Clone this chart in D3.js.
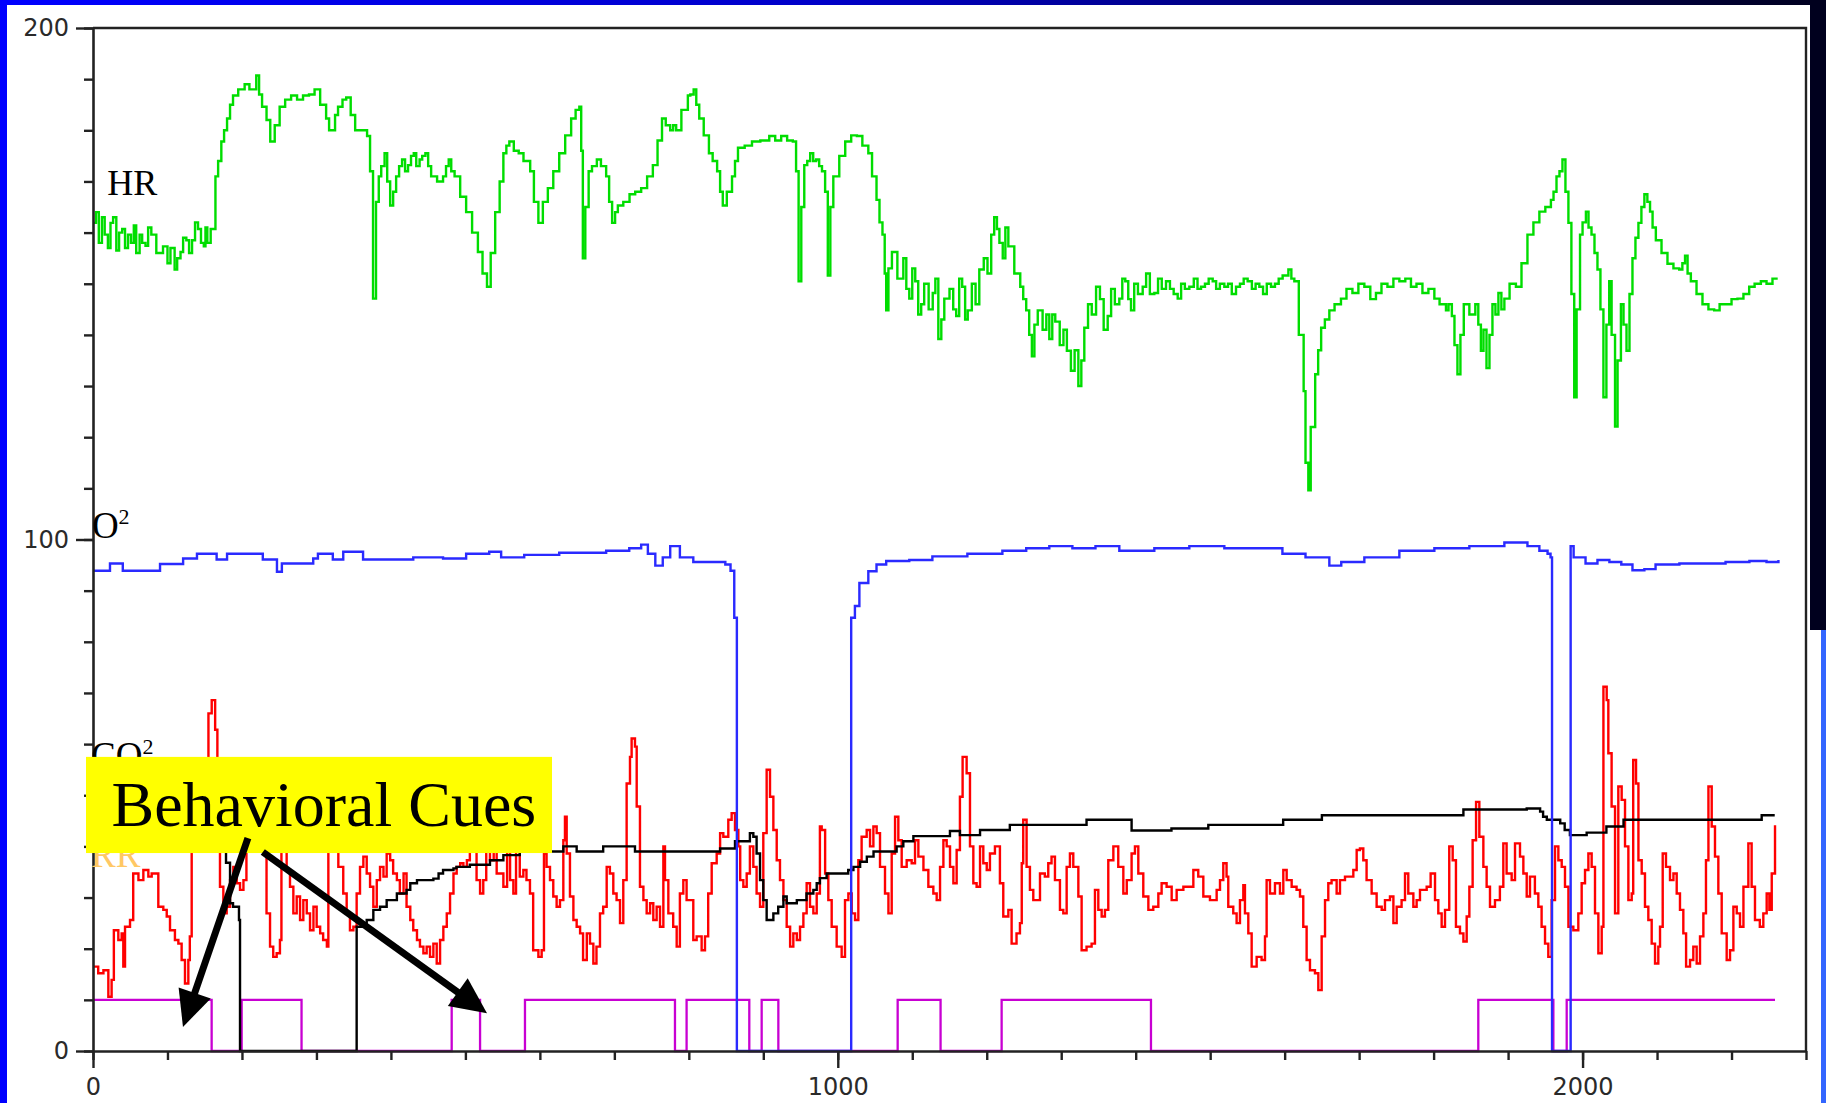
<!DOCTYPE html>
<html><head><meta charset="utf-8">
<script src="https://cdn.jsdelivr.net/npm/d3@7"></script>
<style>html,body{margin:0;padding:0;background:#fff;overflow:hidden}</style>
</head><body>
<svg id="c" width="1826" height="1103"></svg>
<script>
// ---------- data (x = sample index, y = value) ----------
const xMajorTicks = [0, 1000, 2000];
const yMajorTicks = [0, 100, 200];
const seriesLabels = ["HR", "O", "CO", "RR"];
const annotationText = "Behavioral Cues";

const hrData = [[0,161.9],[4,164],[7.8,158],[12,163],[15.7,159.6],[20,157],[23.5,161.9],[27,163],[31.3,156.5],[35,160],[39.2,160.7],[43,157],[47,159.6],[51,158],[54.8,161.4],[58,156],[62.6,159.6],[66,158],[70.5,157.4],[74,161],[78.3,159.6],[85,156],[94,157.3],[100,154],[104,157],[109.6,152.8],[113,155],[117.5,156.2],[121,159],[125.3,158.5],[129,156],[133,158.5],[137,162],[141,160.7],[145,158],[148.8,157.3],[151,161],[153.5,158],[158,160.7],[164.4,171],[168,174],[172.3,177.8],[176,180],[180,182.3],[184,185],[188,186.8],[195,188],[203.6,189],[210,188],[219.2,190.7],[223,187],[227,184.6],[233,182],[238,177.8],[244,181],[250.6,184.6],[258,186],[266,186.8],[274,186],[282,186.8],[290,187],[297.5,188],[305,185],[313,182.3],[317,180],[321,180],[325,183],[329,184.6],[335,186],[340,186.4],[346,183],[352,180],[360,180],[368,178.9],[372,172],[376,147.1],[380,166],[383.7,171],[387,173],[391.5,175.5],[395,170],[399,165.3],[403,168],[407,171],[411,173],[415,174.3],[419,172],[423,173.2],[427,175],[430.7,175.5],[434,173],[438.5,174.3],[442,175],[446.3,175.5],[450,173],[454,171],[462,170],[470,171],[474,173],[477.6,174.3],[481,172],[485.5,171],[493,167],[501,164],[509,160],[516.8,156.2],[523,152],[529,149.4],[534,156],[540,164],[546,170],[551,175.5],[555,177],[559,177.8],[565,176],[571.6,175.5],[578,174],[587,172],[592,166],[598,161.9],[604,166],[610.7,168.7],[618,172],[626,175.5],[634,179],[642,182.3],[648,184],[653,184.6],[655.5,176],[657.7,155],[661,165],[665.5,172],[670,173],[676.5,174.3],[682,173],[689,171],[693,166],[697,161.9],[701,164],[704.7,165.3],[712,166],[720.4,167.5],[728,168],[736,168.7],[744,171],[751.7,173.2],[758,178],[764,182.3],[769,181],[775,180],[779,181],[783,180],[790,184],[798.7,186.8],[802,187],[806.5,188],[810,185],[814,182.3],[820,179],[827,175.5],[832,174],[838,172],[842,168],[845.6,165.3],[851,168],[858,171],[862,174],[866,176.6],[875,177],[884.8,177.8],[896,178],[908,178.9],[916,178],[924,178.9],[932,178],[939.6,177.8],[944,172],[947.4,150.5],[951,165],[955,173.2],[959,174],[963,175.5],[967,174],[971,174.3],[975,173],[978.8,172],[983,168],[986.6,151.6],[990,165],[994,171],[1002,175],[1010,177.8],[1018,179],[1025.7,178.9],[1033,177],[1041,175.5],[1046,171],[1052,166.4],[1056,162],[1060,159.6],[1063,152],[1065,144.8],[1068,153],[1072.7,156.2],[1080,151],[1088,155],[1092,149],[1096,147.1],[1100,153],[1104,150.5],[1108,144],[1112,146],[1116,150],[1122,145],[1127.5,148.2],[1131,151],[1135,139.2],[1139,143],[1143,147.1],[1150,149],[1155,145],[1159,143.7],[1163,151],[1167,149.4],[1171,143],[1174.5,144.8],[1180,150],[1185,146],[1190,152.8],[1196,155],[1201,152],[1206,159.6],[1210,163],[1213.7,160.7],[1217,158],[1221.5,155],[1225,161],[1229,157.3],[1237,152],[1245,149.4],[1249,147],[1253,144.8],[1257,140],[1260.6,135.8],[1264,142],[1268.5,144.8],[1275,141],[1280,144],[1284,139.2],[1288,144],[1292,142.6],[1298,138],[1303,141],[1307.6,136.9],[1313,133],[1318,137],[1323,130],[1327,135],[1331,141.4],[1336,146],[1341,144],[1346.8,149.4],[1352,147],[1357,141],[1362.4,143.7],[1367,149],[1372,146],[1378,147.1],[1382,151],[1386,150.5],[1390,147],[1393.7,144.8],[1398,150],[1403,148],[1409.4,149.4],[1414,152],[1419,148],[1425,148.2],[1430,151],[1435,149],[1440.7,150.5],[1446,149],[1451,148],[1456.4,147.1],[1461,150],[1466,149],[1472,149.4],[1478,151],[1483,149],[1487.7,149.4],[1493,150],[1498,151],[1503.4,150.5],[1508,149],[1513,150],[1519,149.4],[1524,150],[1529,148],[1534.7,149.4],[1540,150],[1545,151],[1550.3,150.5],[1556,149],[1561,150],[1566,149.4],[1571,148],[1576,150],[1581.7,149.4],[1587,150],[1592,151],[1597.3,151.6],[1605,152.8],[1609,151],[1613,150.5],[1619,140],[1625.5,129],[1628,115],[1631.8,109.6],[1635,122],[1641,132.3],[1645,137],[1649,141.4],[1654,143],[1660,144.8],[1667,146],[1675.6,147.1],[1683,149],[1691,148.2],[1699,150],[1707,149.4],[1715,147],[1722.6,148.2],[1730,150],[1738,149.4],[1746,151],[1754,150.5],[1762,151],[1769.6,149.4],[1777,150],[1785,148.2],[1793,149],[1801,147.1],[1808,146],[1816.6,144.8],[1820,146],[1824.5,143.7],[1828,138],[1832,132.3],[1836,140],[1840.5,146],[1848,144],[1856,146],[1860,142],[1863.5,136.9],[1867,141],[1871,133.5],[1875,140],[1879,146],[1883,144],[1887,148.2],[1891,145],[1895,147.1],[1902,150],[1910.5,149.4],[1918,154],[1926,159.6],[1934,162],[1942,164.1],[1950,165],[1957.5,166.4],[1961,168],[1965,171],[1969,172],[1973,174.3],[1977,168],[1981,161.9],[1985,148],[1988.8,127.8],[1992,145],[1996.6,159.6],[2000,162],[2004.5,164.1],[2008,161],[2012,159.6],[2016,156],[2020,152.8],[2024,145],[2028,127.8],[2032,142],[2035.8,150.5],[2039,140],[2043.6,122.1],[2047,135],[2051.5,146],[2055,142],[2059,136.9],[2063,148],[2067,155],[2071,159],[2075,161.9],[2079,165],[2083,167.5],[2087,166],[2090.6,164.1],[2094,161],[2098.4,158.5],[2106,156],[2114,153.9],[2122,153],[2129.8,152.8],[2134,154],[2137.6,155.5],[2141,152],[2145.4,150.5],[2153,148],[2161,146],[2169,145],[2176.7,144.8],[2184,146],[2192.4,146],[2200,147],[2208,147.1],[2216,148],[2223.7,149.4],[2231,150],[2239.4,150.5],[2247,150],[2255,151],[2262,151]];

const o2Data = [[0,93.9],[2.7,93.9],[22.8,95.3],[40,93.9],[90,95.2],[121,96.3],[139.6,97.2],[166,96.1],[180,97.2],[228,96.1],[247,93.7],[253.6,95.3],[295.7,96.3],[302,97.2],[322,96.1],[336,97.6],[362.6,96.1],[412,96.1],[430,96.5],[470,96.3],[501,97.2],[532,97.6],[548,96.5],[579,97],[626,97.4],[689,97.8],[720,98.3],[736,99],[745,97.2],[755,94.9],[765,96.5],[775,98.7],[788,96.5],[806,95.6],[849,95.1],[856,93.9],[861,84.7],[864.5,0],[1018,84.7],[1023,87],[1029,91.5],[1041,93.8],[1052,95.1],[1065,95.8],[1096,96],[1127,96.7],[1174,97.2],[1221,97.8],[1253,98.3],[1284,98.7],[1315,98.3],[1346,98.7],[1378,97.8],[1425,98.3],[1472,98.7],[1519,98.3],[1566,98.3],[1597,97.2],[1628,96.5],[1660,94.9],[1676,95.6],[1707,96.5],[1754,97.8],[1801,98.3],[1848,98.7],[1895,99.4],[1926,98.7],[1942,97.8],[1953,97.2],[1957,96.5],[1959,0],[1984,98.7],[1988,96.5],[2004,95.3],[2020,96],[2036,95.6],[2052,95.1],[2067,94],[2083,94.2],[2098,95.1],[2130,95.3],[2192,95.6],[2224,95.8],[2247,95.6],[2263,96]];

const co2Data = [[160,44],[178.6,36.8],[184,28.9],[188,28.2],[196,25.6],[197.4,0],[354,24.3],[367.5,25.6],[376.4,27.6],[385.4,28.2],[394.3,29.5],[408,30.8],[421,31.5],[426,32.8],[435,33.4],[457,33.7],[464,34.7],[470,35.4],[484,35.7],[488,36],[506,36.4],[533,37.3],[551,38.3],[573,39],[631.5,40],[649.4,39],[685,40],[727.7,39],[842,39.6],[862,41],[882,42.6],[886.6,41.9],[891,38.6],[895.6,33.4],[900,29.5],[904.5,25.6],[913.5,26.9],[920,28.2],[927,30.2],[931.4,28.9],[945,29.5],[958,30.8],[967.2,31.5],[971.7,32.8],[976,33.8],[985,34.7],[1014,35.4],[1021,36],[1030,37],[1039,38],[1048,39],[1079,40],[1088,41],[1101.5,42],[1150.6,43],[1164,42.2],[1191,43.2],[1231,44.2],[1334,45.2],[1394.5,43.1],[1448,43.5],[1497.5,44.2],[1598,45.2],[1650,46.1],[1840,47.2],[1925,47.4],[1943,46.8],[1947,45.8],[1952,45.2],[1970,44.5],[1976,43.2],[1983,42.2],[2005.5,42.7],[2032,43.9],[2055,45.2],[2240.5,46.1],[2258,46.1]];

const rrData = [[0,16.5],[7,15.2],[14,15.8],[20.6,10.6],[25,13.9],[28,23.6],[34,21.7],[38.5,23],[40.7,16.5],[43,24.3],[49.7,25.6],[54,34.7],[61,33.4],[67.6,35.4],[74.3,34.1],[78.8,34.7],[85.5,34.7],[87.7,28.2],[94.4,27.6],[99,26.3],[103.4,23.6],[110,21.7],[114.6,21],[119,17.8],[123.5,13.2],[128,17.8],[130,22.4],[132.5,45],[139,50],[148,44],[155,66],[159.4,68.6],[164,62.8],[167,53],[170.5,32.1],[175,26.9],[179.5,28.2],[184,33.4],[188.4,36],[193,32.8],[197.4,31.5],[202,33.4],[206,45],[215,50],[224,46],[233,26.9],[237.7,20.4],[242,18.4],[246.6,19.1],[251,21.7],[253,42],[258,45],[260,35.4],[264.5,32.1],[269,26.9],[273.5,30.2],[278,25.6],[282.4,29.5],[287,26.9],[291.4,23.6],[296,28.2],[300.3,24.3],[305,23],[309,21.7],[314,20.4],[316,44],[323,48],[329.4,36],[336,30.8],[340.6,26.9],[345,23.6],[349.6,24.3],[354,30.8],[358.5,36],[363,38],[367.5,34.7],[372,32.1],[376.4,28.2],[381,33.4],[385.4,36],[390,34.1],[394.3,38.6],[399,37.3],[403,34.7],[408,33.4],[412,30.8],[417,34.7],[421,28.2],[426,25.6],[430,23.6],[435,21.7],[439,20.4],[443.6,19.1],[448,20.4],[452.5,18.4],[457,21],[461.5,17.1],[466,21.7],[470.4,24.3],[475,26.9],[479.4,30.8],[484,34.7],[488.3,36],[493,36.7],[497.3,36],[502,37.3],[506,39.3],[510,46],[515,33.4],[519.7,30.8],[524,33.4],[528,44],[533,37.3],[538,47],[542,34.7],[551,32.1],[556,45],[560,33.4],[564.4,30.8],[568,48],[573,34.1],[577.8,35.4],[582,33.4],[586.7,30.8],[591,19.7],[598,18.4],[602.4,19.7],[605.5,38.6],[609,36],[613.6,33.4],[618,30.2],[622.5,28.2],[627,29.5],[631.5,41.2],[633.7,45.8],[636,38.6],[640.4,30.2],[645,25.6],[649.4,24.3],[654,23],[658,17.8],[663,23],[667.3,21],[671.8,17.1],[676,20.4],[680.7,26.9],[685,28.2],[689.7,36],[694,34.7],[698.6,30.8],[703,29.5],[707.6,25],[712,33.4],[716.5,52.3],[721,57.5],[723.2,61.1],[727.7,59.5],[730,47.8],[734.4,32.1],[739,29.5],[743.4,26.9],[748,28.9],[752.3,25.6],[756.8,28.2],[761.3,24.3],[765.8,40],[768,33.4],[772.5,26.9],[779,24.3],[783.7,20.4],[788,30.8],[792.6,33.4],[797,29.5],[801.6,29.5],[806,21.7],[810.5,22.4],[817.2,19.7],[821.7,22.4],[826,30.8],[830.7,36.7],[837.4,38.6],[842,42.6],[846.3,41.9],[853,45.2],[857.5,46.5],[862,43.2],[866.5,40],[869,33.4],[873.2,32.1],[877.7,34.7],[882,40],[886.6,36],[891,30.8],[895.6,28.2],[900,42.6],[904.5,55],[909,49.7],[913.5,43.2],[918,37.3],[922.4,33.4],[927,29.5],[931.4,24.3],[936,20.4],[940.3,23],[945,21.7],[949.3,24.3],[953.8,26.9],[958.2,32.8],[962.7,28.2],[967.2,26.9],[971.7,30.8],[976,43.9],[978.4,43.2],[983,34.7],[987.3,29.5],[991.8,24.3],[998.5,20.4],[1005.2,18.4],[1009.7,29.5],[1014.2,30.8],[1018.7,26.9],[1023.2,25.6],[1027.6,37.3],[1032,41.9],[1038.8,43.2],[1043.3,40],[1047.8,43.9],[1052.2,42.6],[1056.7,36],[1063.4,30.8],[1068,26.9],[1072.4,38.6],[1076.9,45.8],[1081.3,41.2],[1085.8,36],[1092.5,37.3],[1099.2,36.7],[1103.7,41.2],[1108.2,38],[1115,35.4],[1121.6,32.1],[1128.3,30.8],[1132.8,29.5],[1137.3,36],[1141.8,41.2],[1146.2,40],[1150.7,36],[1155.2,32.8],[1159.6,39.3],[1164,49.7],[1167.6,57.5],[1173,54.3],[1177.5,40],[1182,32.8],[1186.4,32.1],[1191,40],[1195.4,36.7],[1200,35.4],[1204.3,38.6],[1211,40],[1217.7,32.8],[1222.2,26.3],[1229,27.6],[1233.4,21],[1240,23],[1244.6,25],[1247,36.7],[1249,45.2],[1253.5,36],[1258,31.5],[1262.5,29.5],[1267,29.5],[1271.5,34.7],[1278,34.1],[1282.6,36.7],[1287,38],[1291.6,33.4],[1298.3,27.6],[1302.8,26.9],[1307.3,36],[1311.7,38.6],[1316.2,36],[1323,30.2],[1327.4,19.7],[1334,20.4],[1340.8,21],[1345.3,31.5],[1349.8,27.6],[1354.3,26.3],[1358.7,27.6],[1363.2,37.3],[1370,40],[1376.6,36],[1383.4,30.8],[1388,33.4],[1394.5,38.6],[1399,40],[1403.5,34.7],[1410.2,30.2],[1417,27.6],[1423.6,28.2],[1430.4,30.8],[1434.8,32.8],[1441.5,32.1],[1448.3,29.5],[1455,31.5],[1464,32.1],[1473,32.1],[1477.4,35.4],[1484,34.1],[1490.8,30.2],[1499.7,29.5],[1508.7,31.5],[1513.2,33.4],[1517.6,36.7],[1522,34.1],[1524.3,28.2],[1531,26.9],[1535.5,25],[1540,29.5],[1544.5,32.4],[1546.7,26.9],[1551.2,23],[1555.7,16.5],[1562.4,18.4],[1569,17.8],[1573.6,22.4],[1575.8,33.4],[1580.3,30.8],[1587,32.8],[1593.7,30.8],[1598.2,35.4],[1602.7,33.4],[1609.4,32.1],[1616,31.5],[1620.6,30.2],[1625,24.3],[1629.5,17.8],[1634,15.8],[1640.7,15.2],[1645.2,11.9],[1649.7,22.4],[1654.2,29.5],[1658.6,32.8],[1663,33.4],[1669.8,30.8],[1674.3,33.4],[1681,34.1],[1687.7,34.1],[1692.2,35.4],[1696.7,39.3],[1701.1,39.6],[1705.6,37.3],[1710,33.4],[1716.8,30.8],[1723.5,28.2],[1730.3,27.6],[1734.7,29.5],[1741.4,30.2],[1746,25],[1750.4,28.2],[1757,29.5],[1761.6,34.7],[1766,30.8],[1772.8,28.2],[1777.2,29.5],[1781.7,31.5],[1790.7,32.1],[1796,34.7],[1801.9,29.5],[1806.3,26.9],[1810.8,24.3],[1815.3,27.6],[1821,40],[1825.6,37.3],[1830,24.3],[1835.4,23],[1840,21.4],[1844.4,26.3],[1848,32.1],[1852.4,41.2],[1857,48.7],[1861.4,41.9],[1866.8,36],[1871.2,32.1],[1875.7,28.2],[1882.4,29.5],[1889,32.1],[1893.6,40.6],[1898,34.7],[1904.8,33.4],[1909.3,40.6],[1916,38],[1920.5,34.7],[1925,30.2],[1929.4,34.1],[1936,30.8],[1940.6,28.2],[1945,24.3],[1949.6,21],[1954,18.4],[1958.5,29.5],[1963,40],[1967.5,37.3],[1972,36],[1976.4,32.1],[1981,24.3],[1987.6,23.6],[1994.3,26.9],[1998.8,32.8],[2003.3,35.4],[2007.8,38.6],[2012.2,36],[2016.7,26.9],[2021.2,19.1],[2025.7,24.3],[2028,71.2],[2032.4,68.6],[2034.6,58.2],[2039,47.8],[2043.6,26.9],[2048,51.7],[2052.5,49.1],[2057,40],[2061.5,29.5],[2066,30.8],[2068,56.9],[2071.8,52.3],[2075,37.3],[2079.4,34.7],[2083.8,28.2],[2088.3,25.6],[2092.8,21],[2097.3,17.1],[2101.7,20.4],[2104,24.3],[2107.6,38.6],[2112,36],[2117.4,33.4],[2122,34.7],[2126.4,30.8],[2130.8,27.6],[2135.3,23],[2139,16.5],[2144.3,17.8],[2148.7,20.4],[2153.2,17.1],[2157.7,22.4],[2162.2,26.9],[2165.7,37.3],[2169,51.7],[2173.4,43.9],[2177.8,38],[2182.3,30.8],[2186.8,23],[2193.5,17.8],[2198,19.7],[2202.5,28.2],[2207,26.9],[2211.4,24.3],[2216,32.1],[2222.6,40.6],[2227,32.1],[2231.5,25.6],[2238,24.3],[2242.7,26.9],[2247.2,30.8],[2250.8,27.6],[2254,34.7],[2258.4,43.9],[2260,43.9]];

const cueData = [[0,10],[159.3,0],[199.6,10],[280,0],[481.6,10],[519.7,0],[580,10],[781.4,0],[797,10],[881.2,0],[897.8,10],[920.2,0],[1080.4,10],[1138,0],[1220,10],[1420.5,0],[1860,10],[1960.8,0],[1978.7,10],[2258.4,10]];

// annotation geometry in data units
const boxCorners = [[-9.4,57.5],[616.3,38.7]];
const textAnchor = [310,43.9];
const arrowStarts = [[208,41.6],[228,38.9]];
const arrowTips = [[120.8,4.7],[529,7.4]];

// ---------- drawing ----------
const W = 1826, H = 1103;
const svg = d3.select("#c");
const x = d3.scaleLinear().domain([0, 2300]).range([93, 1806]);
const y = d3.scaleLinear().domain([0, 200]).range([1051, 28]);

// slide frame
const defs = svg.append("defs");
const gr = defs.append("linearGradient").attr("id","topg").attr("x1","0").attr("x2","1");
gr.append("stop").attr("offset","0").attr("stop-color","#0000ff");
gr.append("stop").attr("offset","0.45").attr("stop-color","#0000c8");
gr.append("stop").attr("offset","1").attr("stop-color","#00001e");
svg.append("rect").attr("x",0).attr("y",0).attr("width",W).attr("height",H).attr("fill","#fff");
svg.append("rect").attr("x",0).attr("y",0).attr("width",W).attr("height",5).attr("fill","url(#topg)");
svg.append("rect").attr("x",0).attr("y",0).attr("width",7).attr("height",H).attr("fill","#0000ff");
svg.append("rect").attr("x",1810).attr("y",0).attr("width",16).attr("height",630).attr("fill","#00001e");
svg.append("rect").attr("x",1821).attr("y",630).attr("width",5).attr("height",H-630).attr("fill","#3366ff");

// series
const line = d3.line().x(d=>x(d[0])).y(d=>y(d[1])).curve(d3.curveStepAfter);
function drawSeries(data, color, w){
  svg.append("path").datum(data).attr("d",line).attr("fill","none")
    .attr("stroke",color).attr("stroke-width",w).attr("stroke-linejoin","miter");
}
drawSeries(cueData, "#c800d2", 2.3);
drawSeries(rrData, "#ff0000", 2.4);
drawSeries(co2Data, "#000000", 2.4);
drawSeries(o2Data, "#2a2aff", 2.4);
drawSeries(hrData, "#00dd00", 2.4);

// plot frame (top & right)
svg.append("path").attr("d", `M${x(0)},${y(200)}H${x(2300)}V${y(0)}`)
  .attr("fill","none").attr("stroke","#222").attr("stroke-width",2.4);

// axes (drawn over the series, hiding zero-level segments)
function styleAxis(g){
  g.selectAll(".domain").attr("stroke","#222").attr("stroke-width",2.6);
  g.selectAll(".tick line").attr("stroke","#222").attr("stroke-width",2.4);
  g.selectAll(".tick text").attr("fill","#2a2a2a").attr("font-family","'DejaVu Sans', sans-serif").attr("font-size",24);
}
const fmt = d3.format("d");
svg.append("g").attr("transform",`translate(${x(0)},0)`)
  .call(d3.axisLeft(y).tickValues(d3.range(0,201,10)).tickSize(9).tickSizeOuter(0).tickFormat(""))
  .call(styleAxis);
svg.append("g").attr("transform",`translate(${x(0)},0)`)
  .call(d3.axisLeft(y).tickValues(yMajorTicks).tickSize(17).tickSizeOuter(0).tickPadding(7).tickFormat(fmt))
  .call(styleAxis).call(g=>g.select(".domain").remove());
svg.append("g").attr("transform",`translate(0,${y(0)})`)
  .call(d3.axisBottom(x).tickValues(d3.range(0,2301,100)).tickSize(9).tickSizeOuter(0).tickFormat(""))
  .call(styleAxis);
svg.append("g").attr("transform",`translate(0,${y(0)})`)
  .call(d3.axisBottom(x).tickValues(xMajorTicks).tickSize(17).tickSizeOuter(0).tickPadding(10).tickFormat(fmt))
  .call(styleAxis).call(g=>g.select(".domain").remove());

// series labels
const serif = "'Liberation Serif','Times New Roman',serif";
svg.append("text").attr("x",x(19)).attr("y",y(167.4)).attr("font-family",serif).attr("font-size",36).attr("fill","#000").text(seriesLabels[0]);
const o2t = svg.append("text").attr("x",x(-1.5)).attr("y",y(100.3)).attr("font-family",serif).attr("font-size",37).attr("fill","#000");
o2t.append("tspan").text(seriesLabels[1]);
o2t.append("tspan").attr("font-size",22).attr("dy",-14).text("2");
const co2t = svg.append("text").attr("x",x(-2.7)).attr("y",y(55.4)).attr("font-family",serif).attr("font-size",37).attr("fill","#000");
co2t.append("tspan").text(seriesLabels[2]);
co2t.append("tspan").attr("font-size",22).attr("dy",-14).text("2");
svg.append("text").attr("x",x(-2.7)).attr("y",y(35.9)).attr("font-family",serif).attr("font-size",37).attr("fill","#ffc864").text(seriesLabels[3]);

// annotation box
svg.append("rect")
  .attr("x",x(boxCorners[0][0])).attr("y",y(boxCorners[0][1]))
  .attr("width",x(boxCorners[1][0])-x(boxCorners[0][0]))
  .attr("height",y(boxCorners[1][1])-y(boxCorners[0][1]))
  .attr("fill","#ffff00");
svg.append("text").attr("x",x(textAnchor[0])).attr("y",y(textAnchor[1]))
  .attr("text-anchor","middle").attr("font-family",serif).attr("font-size",64).attr("fill","#000").text(annotationText);

// arrows
arrowStarts.forEach((s,i)=>{
  const t = arrowTips[i];
  const x1=x(s[0]), y1=y(s[1]), x2=x(t[0]), y2=y(t[1]);
  const dx=x2-x1, dy=y2-y1, L=Math.hypot(dx,dy), ux=dx/L, uy=dy/L;
  const hl=36, hw=17;
  const bx=x2-ux*hl, by=y2-uy*hl;
  svg.append("line").attr("x1",x1).attr("y1",y1).attr("x2",bx+ux*2).attr("y2",by+uy*2)
    .attr("stroke","#000").attr("stroke-width",7);
  svg.append("path").attr("d",`M${x2},${y2}L${bx-uy*hw},${by+ux*hw}L${bx+uy*hw},${by-ux*hw}Z`).attr("fill","#000");
});
</script>
</body></html>
